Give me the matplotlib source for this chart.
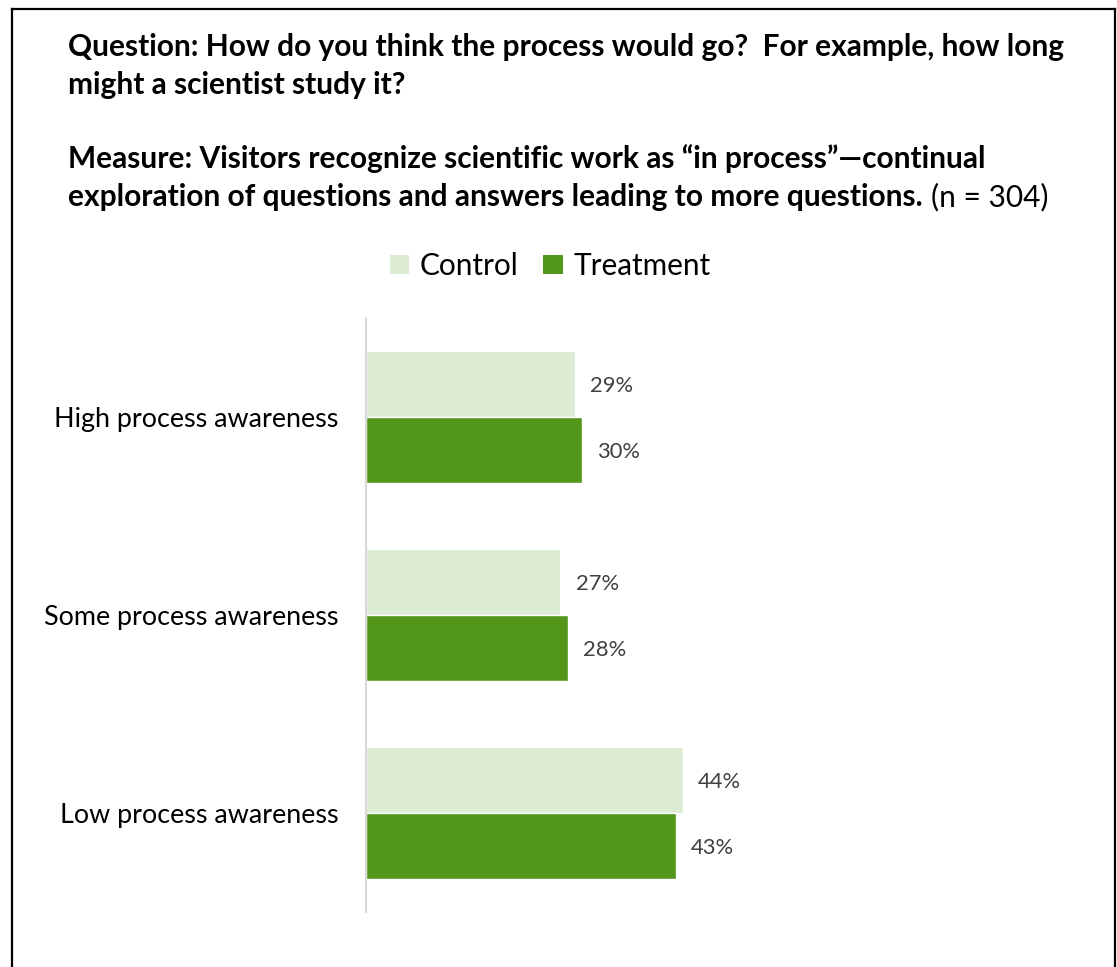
import matplotlib
matplotlib.use("Agg")
import matplotlib.pyplot as plt
from matplotlib.lines import Line2D
from matplotlib.patches import Patch

# --- data
categories = ["High process awareness", "Some process awareness", "Low process awareness"]
control = [29, 27, 44]
treatment = [30, 28, 43]
series_names = ["Control", "Treatment"]
question_lines = [
    "Question: How do you think the process would go?  For example, how long",
    "might a scientist study it?",
]
measure_lines = [
    "Measure: Visitors recognize scientific work as \u201cin process\u201d\u2014continual",
    "exploration of questions and answers leading to more questions.",
]
n_note = "(n = 304)"

col_control = "#DCEBD4"
col_treat = "#52961C"
font = "Lato"
W, H = 1117, 967

fig = plt.figure(figsize=(W / 100, H / 100), dpi=100)
fig.patch.set_facecolor("white")

def fx(px):
    return px / W

def fy(py):
    return 1 - py / H

# --- outer box (open at the bottom)
box_kw = dict(color="black", linewidth=1.6, transform=fig.transFigure)
fig.add_artist(Line2D([fx(12), fx(12)], [0, fy(9)], **box_kw))
fig.add_artist(Line2D([fx(12), fx(1115)], [fy(9), fy(9)], **box_kw))
fig.add_artist(Line2D([fx(1115), fx(1115)], [fy(9), 0], **box_kw))

# --- heading text
tsize = 21.5
title_kw = dict(family=font, fontweight="bold", fontsize=tsize, color="black", va="baseline", ha="left")
fig.text(fx(68), fy(56), question_lines[0], **title_kw)
fig.text(fx(68), fy(94), question_lines[1], **title_kw)
fig.text(fx(68), fy(168), measure_lines[0], **title_kw)
last = fig.text(fx(68), fy(206), measure_lines[1], **title_kw)
fig.canvas.draw()
bb = last.get_window_extent()
fig.text((bb.x1 + 8) / W, fy(206), n_note, family=font, fontsize=tsize,
         color="black", va="baseline", ha="left")

# --- bars
ax = fig.add_axes([fx(366), fy(912), fx(360), (912 - 318) / H])
pos = list(range(len(categories)))
bh = 0.333
ax.barh([p - bh / 2 for p in pos], control, height=bh, color=col_control,
        edgecolor="white", linewidth=1)
ax.barh([p + bh / 2 for p in pos], treatment, height=bh, color=col_treat,
        edgecolor="white", linewidth=1)

for p, c, t in zip(pos, control, treatment):
    ax.annotate(f"{c}%", (c, p - bh / 2), xytext=(11, 0), textcoords="offset points",
                va="center_baseline", ha="left", family=font, fontsize=15.8, color="#404040")
    ax.annotate(f"{t}%", (t, p + bh / 2), xytext=(11, 0), textcoords="offset points",
                va="center_baseline", ha="left", family=font, fontsize=15.8, color="#404040")

ax.set_xlim(0, 50)
ax.set_ylim(len(categories) - 0.5, -0.5)
ax.set_yticks(pos)
ax.set_yticklabels(categories, family=font, fontsize=19.4, color="black")
ax.tick_params(axis="y", length=0, pad=20)
ax.set_xticks([])
for s in ["top", "right", "bottom"]:
    ax.spines[s].set_visible(False)
ax.spines["left"].set_color("#D9D9D9")
ax.spines["left"].set_linewidth(1.5)
ax.set_facecolor("none")

# --- legend
handles = [Patch(facecolor=col_control), Patch(facecolor=col_treat)]
fig.legend(handles, series_names, loc="center", bbox_to_anchor=(fx(550), fy(266)),
           ncol=2, frameon=False, prop={"family": font, "size": 21.4},
           handlelength=0.65, handleheight=0.65, handletextpad=0.35, columnspacing=0.85)

fig.savefig("out.png", dpi=100, facecolor="white")
